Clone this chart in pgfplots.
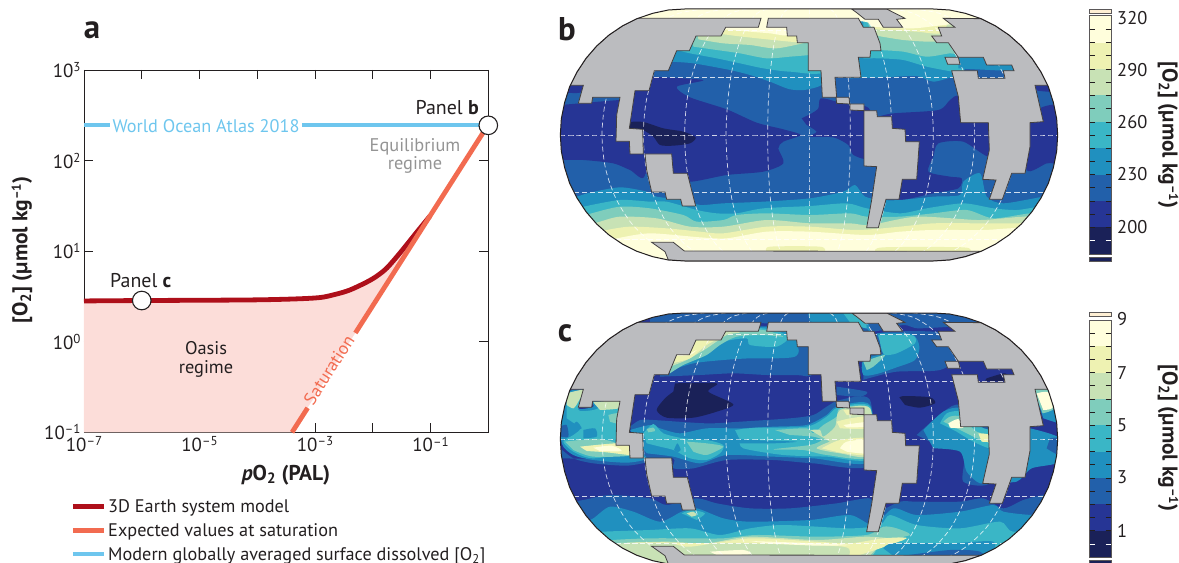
\documentclass[border=0pt]{standalone}
\usepackage{pgfplots}
\pgfplotsset{compat=1.18}
\usepackage{fontspec}
\setmainfont{PT Sans}
\definecolor{c1}{HTML}{1A2158}\definecolor{c2}{HTML}{263595}\definecolor{c3}{HTML}{2260AA}
\definecolor{c4}{HTML}{2090BF}\definecolor{c5}{HTML}{3AB6C6}\definecolor{c6}{HTML}{7FCDBC}
\definecolor{c7}{HTML}{C8E2B5}\definecolor{c8}{HTML}{EEF2B2}\definecolor{c9}{HTML}{FFFEDC}
\definecolor{landg}{HTML}{BBBCBF}\definecolor{modelc}{HTML}{AE0F1A}\definecolor{satc}{HTML}{F26B50}
\definecolor{bluec}{HTML}{6EC6EE}\definecolor{pinkc}{HTML}{FCDDD9}\definecolor{inkc}{HTML}{231F20}
\newcommand\fs[1]{\fontsize{#1}{#1}\selectfont}
\newcommand\pw[1]{10\raisebox{0.62ex}{\fs{13}#1}}
\newcommand\oxlabel{[O\textsubscript{2}] (µmol kg\raisebox{0.62ex}{\fs{13}\bfseries –1})}
\pgfplotsset{
  bd/.style={draw=none,fill=#1,smooth,tension=0.45},
  grat/.style={draw=white,draw opacity=0.8,line width=0.7bp,dash pattern=on 5bp off 3bp,smooth},
  land/.style={fill=landg,draw=inkc!85,line width=0.8bp,line join=miter},
  mapaxis/.style={hide axis,scale only axis,width=520bp,height=280bp,xmin=0,xmax=1560,ymin=0,ymax=840,y dir=reverse,anchor=south west},
}
\newcommand\merid[7]{\addplot[grat] coordinates {(#1,27)(#2,40)(#3,78)(#4,138)(#5,216)(#6,307)(#7,405)(#6,503)(#5,594)(#4,672)(#3,732)(#2,770)(#1,783)};}
\newcommand\mapover{%
 \merid{777}{777}{777}{777}{777}{777}{777}
 \merid{715}{699}{684}{671}{661}{655}{653}
 \merid{653}{621}{591}{565}{545}{533}{528}
 \merid{591}{542}{497}{459}{429}{410}{404}
 \merid{528}{464}{404}{352}{313}{288}{280}
 \merid{466}{386}{311}{246}{197}{166}{156}
 \merid{839}{855}{870}{883}{893}{899}{901}
 \merid{901}{933}{963}{989}{1009}{1021}{1026}
 \merid{963}{1012}{1057}{1095}{1125}{1144}{1150}
 \merid{1026}{1090}{1150}{1202}{1241}{1266}{1274}
 \merid{1088}{1168}{1243}{1308}{1357}{1388}{1398}
 \addplot[grat] coordinates {(31,405)(1523,405)};
 \addplot[grat] coordinates {(72,233)(1482,233)};
 \addplot[grat] coordinates {(72,577)(1482,577)};
 \addplot[grat] coordinates {(198,91)(1356,91)};
 \addplot[grat] coordinates {(198,719)(1356,719)};
 % land
 \addplot[land] coordinates {(633,55)(625,82)(527,82)(513,108)(438,108)(418,152)(380,152)(355,212)(313,212)(297,272)(255,272)(238,385)(278,388)(280,462)(240,462)(238,424)(198,424)(200,345)(210,292)(128,292)(125,310)(85,310)(100,256)(60,256)(81,216)(108,175)(140,138)(177,105)(217,78)(261,55)} --cycle;
 \addplot[land] coordinates {(285,462)(365,462)(370,520)(412,520)(437,618)(397,618)(392,598)(350,598)(345,576)(305,576)(290,510)} --cycle;
 \addplot[land] coordinates {(655,55)(925,55)(940,82)(972,82)(990,130)(993,152)(962,152)(960,172)(925,172)(933,232)(855,232)(860,292)(817,292)(813,212)(775,212)(775,128)(742,128)(740,108)(712,108)(710,82)(650,82)} --cycle;
 \addplot[land] coordinates {(858,292)(897,292)(899,312)(860,310)} --cycle;
 \addplot[land] coordinates {(900,312)(942,312)(942,332)(900,330)} --cycle;
 \addplot[land] coordinates {(942,332)(980,332)(982,350)(1025,350)(1027,385)(1065,388)(1067,425)(1108,425)(1100,538)(1057,538)(1047,598)(1008,598)(985,683)(950,683)(965,600)(980,500)(942,498)} --cycle;
 \addplot[land] coordinates {(905,27)(1010,27)(1065,55)(1040,58)(1058,82)(1000,82)(985,58)(945,58)(920,38)} --cycle;
 \addplot[land] coordinates {(1293,56)(1180,55)(1215,82)(1165,82)(1175,108)(1145,108)(1160,128)(1195,128)(1225,172)(1300,172)(1310,195)(1385,195)(1392,212)(1360,212)(1365,235)(1285,235)(1282,212)(1205,212)(1225,290)(1232,368)(1315,368)(1318,450)(1298,538)(1338,540)(1318,598)(1357,598)(1385,520)(1425,520)(1440,440)(1440,368)(1480,365)(1455,256)(1495,256)(1473,216)(1446,175)(1414,138)(1377,105)(1337,78)} --cycle;
 \addplot[land] coordinates {(1185,172)(1225,172)(1230,193)(1193,193)} --cycle;
 \addplot[land] coordinates {(305,727)(370,727)(403,753)(1293,754)(1246,770)(1199,780)(1150,783)(404,783)(355,780)(345,755)} --cycle;
 % white corners and outline
 \addplot[fill=white,draw=none] coordinates {(-5,-80)(777,-80)(777,27)(404,27)(355,30)(308,40)(261,56)(217,78)(177,105)(140,138)(108,175)(81,216)(59,260)(44,307)(34,356)(31,405)(34,454)(44,503)(59,550)(81,594)(108,635)(140,672)(177,705)(217,732)(261,754)(308,770)(355,780)(404,783)(777,783)(777,860)(-5,860)} --cycle;
 \addplot[fill=white,draw=none] coordinates {(1565,-80)(777,-80)(777,27)(1150,27)(1199,30)(1246,40)(1293,56)(1337,78)(1377,105)(1414,138)(1446,175)(1473,216)(1495,260)(1510,307)(1520,356)(1523,405)(1520,454)(1510,503)(1495,550)(1473,594)(1446,635)(1414,672)(1377,705)(1337,732)(1293,754)(1246,770)(1199,780)(1150,783)(777,783)(777,860)(1565,860)} --cycle;
 \addplot[draw=inkc,line width=1bp] coordinates {(404,27)(355,30)(308,40)(261,56)(217,78)(177,105)(140,138)(108,175)(81,216)(59,260)(44,307)(34,356)(31,405)(34,454)(44,503)(59,550)(81,594)(108,635)(140,672)(177,705)(217,732)(261,754)(308,770)(355,780)(404,783)(1150,783)(1199,780)(1246,770)(1293,754)(1337,732)(1377,705)(1414,672)(1446,635)(1473,594)(1495,550)(1510,503)(1520,454)(1523,405)(1520,356)(1510,307)(1495,260)(1473,216)(1446,175)(1414,138)(1377,105)(1337,78)(1293,56)(1246,40)(1199,30)(1150,27)} --cycle;
}
\begin{document}
\begin{tikzpicture}
\path[use as bounding box,clip] (0,0) rectangle (1179bp,563bp);
%% panel a
\begin{axis}[at={(84bp,130.7bp)},anchor=south west,scale only axis,width=404.3bp,height=362.3bp,
  xmode=log,ymode=log,xmin=1e-7,xmax=1,ymin=0.1,ymax=1000,clip=false,
  xtick={1e-7,1e-6,1e-5,1e-4,1e-3,1e-2,1e-1,1},
  xticklabels={\pw{–7},,\pw{–5},,\pw{–3},,\pw{–1},},
  ytick={0.1,1,10,100,1000},
  yticklabels={\pw{–1},\pw{0},\pw{1},\pw{2},\pw{3}},
  xminorticks=false,yminorticks=false,tick align=inside,major tick length=9.5bp,
  tick style={color=inkc,line width=0.9bp},axis line style={color=inkc,line width=0.9bp},
  tick label style={font=\fs{19},text=inkc},
  xticklabel style={yshift=-1bp},
  legend style={at={(axis description cs:-0.034,-0.179)},anchor=north west,draw=none,fill=none,font=\fs{18.3},text=inkc,
    row sep=5.5bp,inner sep=0pt,legend cell align=left},
  legend image code/.code={\draw[#1] (0bp,0bp) -- (31bp,0bp);},
  ]
\addplot[fill=pinkc,draw=none,forget plot] coordinates {(1e-7,0.1)(1e-7,2.82)(1e-6,2.85)(1e-4,2.9)(1e-3,3.04)(0.00222,3.33)(0.00403,3.73)(0.00794,4.57)(0.01183,5.32)(0.0176,6.53)(0.0296,9.55)(0.0582,16.3)(0.0977,24.4)(3.98e-4,0.1)} --cycle;
\addplot[modelc,line width=4.8bp,smooth,tension=0.5] coordinates {(1e-7,2.82)(1e-6,2.85)(1e-4,2.9)(1e-3,3.04)(0.00222,3.33)(0.00403,3.73)(0.00794,4.57)(0.01183,5.32)(0.0176,6.53)(0.0296,9.55)(0.0582,16.3)(0.0977,24.4)};
\addlegendentry{3D Earth system model}
\addplot[satc,line width=4.8bp] coordinates {(4.0e-4,0.1)(7.45e-4,0.186)};
\addlegendentry{Expected values at saturation}
\addplot[satc,line width=4.8bp,forget plot] coordinates {(5e-3,1.25)(0.98,245)};
\addplot[bluec,line width=4bp] coordinates {(1e-7,245)(2.8e-7,245)};
\addlegendentry{Modern globally averaged surface dissolved [O\textsubscript{2}]}
\addplot[bluec,line width=4bp,forget plot] coordinates {(5.9e-4,245)(1,245)};
\addplot[only marks,mark=*,mark size=9.3bp,mark options={fill=white,draw=inkc,line width=1.1bp},forget plot] coordinates {(1e-6,2.85)(1,245)};
\end{axis}
%% panel b
\begin{axis}[mapaxis,at={(550bp,283bp)}]
\addplot[fill=c3,draw=none] coordinates {(20,15)(1535,15)(1535,800)(20,800)} --cycle;
\addplot[bd=c2] coordinates {(300,230)(460,240)(380,260)(420,292)(530,328)(620,368)(700,388)(752,405)(700,425)(685,445)(700,490)(640,515)(530,525)(420,545)(370,520)(280,520)(240,480)(200,400)(240,270)} --cycle;
\addplot[bd=c2] coordinates {(20,316)(90,310)(210,300)(285,300)(285,525)(240,510)(190,490)(100,480)(40,480)(20,480)} --cycle;
\addplot[bd=c2] coordinates {(40,256)(100,256)(90,278)(50,278)} --cycle;
\addplot[bd=c2] coordinates {(755,355)(785,340)(805,325)(812,295)(860,305)(900,315)(960,330)(960,470)(910,465)(895,435)(850,412)(780,410)(800,395)(770,375)} --cycle;
\addplot[bd=c2] coordinates {(985,350)(1030,340)(1165,330)(1200,300)(1230,290)(1320,370)(1320,470)(1240,425)(1165,430)(1150,470)(1135,515)(1200,530)(1235,535)(1225,565)(1150,580)(1060,600)(1040,600)(1060,500)(1000,400)} --cycle;
\addplot[bd=c2] coordinates {(1475,322)(1535,322)(1535,478)(1490,490)(1430,510)(1430,370)} --cycle;
\addplot[bd=c2] coordinates {(1450,250)(1505,250)(1515,275)(1462,272)} --cycle;
\addplot[bd=c1] coordinates {(235,366)(280,366)(340,385)(400,395)(437,412)(420,430)(370,437)(330,435)(310,410)(278,390)(235,385)} --cycle;
% north pacific
\addplot[bd=c4] coordinates {(300,60)(830,60)(830,235)(775,268)(720,268)(660,245)(600,225)(540,210)(430,190)(360,185)} --cycle;
\addplot[bd=c5] coordinates {(400,60)(830,60)(830,212)(720,215)(640,205)(570,190)(500,175)(420,160)(380,150)} --cycle;
\addplot[bd=c6] coordinates {(420,60)(830,60)(830,160)(780,165)(720,170)(650,175)(570,160)(500,150)(430,140)} --cycle;
\addplot[bd=c7] coordinates {(440,60)(830,60)(830,115)(780,125)(680,145)(600,135)(520,130)(445,118)} --cycle;
\addplot[bd=c8] coordinates {(500,60)(830,60)(830,125)(760,128)(720,125)(650,118)(560,108)(500,100)} --cycle;
\addplot[bd=c9] coordinates {(510,60)(730,60)(715,105)(660,100)(600,95)(520,88)} --cycle;
% north atlantic
\addplot[bd=c4] coordinates {(900,60)(1240,60)(1240,225)(1210,230)(1150,245)(1100,228)(1000,232)(900,235)} --cycle;
\addplot[bd=c5] coordinates {(940,60)(1240,60)(1240,212)(1210,215)(1130,200)(1060,180)(990,175)(940,175)} --cycle;
\addplot[bd=c6] coordinates {(950,60)(1240,60)(1240,160)(1200,160)(1130,170)(1060,155)(985,150)} --cycle;
\addplot[bd=c7] coordinates {(950,60)(1200,60)(1200,118)(1140,125)(1060,120)(985,108)} --cycle;
\addplot[bd=c8] coordinates {(960,60)(1180,60)(1170,100)(1100,95)(975,88)} --cycle;
\addplot[bd=c9] coordinates {(250,20)(1310,20)(1310,56)(1140,80)(1080,85)(970,80)(900,62)(250,62)} --cycle;
\addplot[bd=c4] coordinates {(1225,172)(1300,172)(1310,195)(1385,195)(1392,212)(1280,208)(1225,205)} --cycle;
% south bands
\addplot[bd=c4] coordinates {(40,600)(80,590)(120,578)(210,562)(290,575)(320,590)(400,600)(450,615)(520,610)(640,605)(780,595)(880,575)(915,555)(945,590)(1000,600)(1050,600)(1150,590)(1230,585)(1240,545)(1290,520)(1310,590)(1360,610)(1480,590)(1530,585)(1530,800)(30,800)} --cycle;
\addplot[bd=c5] coordinates {(60,630)(100,620)(210,600)(300,605)(350,605)(440,630)(500,640)(560,640)(640,625)(780,618)(890,610)(950,625)(1050,640)(1130,625)(1240,610)(1330,625)(1400,630)(1470,620)(1530,620)(1530,800)(30,800)} --cycle;
\addplot[bd=c6] coordinates {(80,655)(125,640)(210,620)(300,625)(400,645)(440,665)(520,660)(560,645)(650,640)(780,645)(900,640)(950,650)(1050,650)(1150,640)(1250,630)(1330,655)(1440,640)(1530,640)(1530,800)(30,800)} --cycle;
\addplot[bd=c7] coordinates {(100,680)(150,665)(210,650)(320,655)(420,680)(520,680)(650,660)(780,670)(900,670)(960,675)(1100,650)(1280,660)(1360,655)(1420,650)(1530,650)(1530,800)(30,800)} --cycle;
\addplot[bd=c8] coordinates {(130,700)(170,690)(240,680)(350,685)(450,695)(520,700)(650,680)(780,680)(920,690)(1050,680)(1150,670)(1300,670)(1400,670)(1530,670)(1530,800)(30,800)} --cycle;
\addplot[bd=c9] coordinates {(150,725)(200,715)(300,700)(450,712)(530,715)(650,695)(780,695)(950,705)(1050,695)(1150,690)(1300,690)(1380,685)(1530,680)(1530,800)(30,800)} --cycle;
\addplot[bd=c8] coordinates {(650,755)(660,740)(810,740)(825,755)} --cycle;
\addplot[bd=c8] coordinates {(975,755)(1000,742)(1240,742)(1260,755)} --cycle;
\mapover
\end{axis}
%% panel c
\begin{axis}[mapaxis,at={(550bp,-21bp)},
  cb/.style={draw=none,fill=#1,smooth,tension=0.45,y filter/.expression={y-27}}]
\addplot[fill=c2,draw=none] coordinates {(20,15)(1535,15)(1535,800)(20,800)} --cycle;
% arctic strip
\addplot[cb=c3] coordinates {(300,40)(1290,40)(1290,85)(1110,100)(1060,90)(950,110)(650,85)(300,85)} --cycle;
\addplot[cb=c4] coordinates {(770,40)(930,50)(960,110)(930,90)(780,80)} --cycle;
\addplot[cb=c5] coordinates {(880,55)(930,60)(950,100)(900,82)} --cycle;
% north pacific
\addplot[cb=c3] coordinates {(330,245)(450,240)(550,235)(650,240)(740,240)(790,235)(790,100)(330,100)} --cycle;
\addplot[cb=c4] coordinates {(350,230)(430,205)(520,195)(600,190)(680,190)(735,185)(745,160)(700,100)(430,100)(350,150)} --cycle;
\addplot[cb=c5] coordinates {(360,225)(420,190)(470,170)(520,140)(590,130)(600,150)(680,155)(715,125)(640,100)(430,100)(350,170)} --cycle;
\addplot[cb=c6] coordinates {(360,235)(400,210)(470,180)(510,150)(560,125)(640,120)(700,125)(640,105)(530,100)(430,135)(350,180)} --cycle;
\addplot[cb=c7] coordinates {(360,215)(410,195)(470,160)(530,120)(570,112)(525,100)(500,130)(440,135)(370,180)} --cycle;
\addplot[cb=c8] coordinates {(365,205)(420,190)(470,150)(510,128)(525,108)(545,115)(515,105)(490,130)(430,140)(380,180)} --cycle;
\addplot[cb=c9] coordinates {(380,183)(420,180)(440,165)(415,177)(385,176)} --cycle;
% equatorial pacific
\addplot[cb=c3] coordinates {(240,395)(270,375)(310,375)(470,385)(570,380)(720,370)(790,360)(830,335)(870,315)(960,315)(960,510)(790,505)(670,495)(530,495)(430,520)(370,520)(370,490)(280,490)} --cycle;
\addplot[cb=c4] coordinates {(240,405)(300,390)(330,400)(390,415)(470,400)(570,400)(670,395)(770,390)(830,360)(860,335)(960,330)(960,500)(790,490)(670,485)(530,480)(450,505)(370,485)(290,475)} --cycle;
\addplot[cb=c5] coordinates {(280,415)(310,387)(340,415)(400,430)(470,435)(520,450)(510,475)(470,495)(420,490)(370,465)(330,455)(290,445)} --cycle;
\addplot[cb=c5] coordinates {(555,405)(620,398)(770,395)(830,365)(865,337)(960,335)(960,490)(830,485)(700,480)(580,460)(570,435)} --cycle;
\addplot[cb=c4] coordinates {(535,430)(610,435)(740,440)(670,445)(580,445)(540,445)} --cycle;
\addplot[cb=c6] coordinates {(675,405)(770,400)(790,415)(820,390)(860,365)(870,340)(960,340)(960,485)(830,480)(760,465)(670,463)(780,450)(815,435)(790,425)(720,420)} --cycle;
\addplot[cb=c6] coordinates {(410,440)(470,445)(520,455)(470,480)(430,470)} --cycle;
\addplot[cb=c4] coordinates {(372,465)(382,445)(392,465)(382,472)} --cycle;
\addplot[cb=c6] coordinates {(290,402)(310,398)(315,408)(295,412)} --cycle;
\addplot[cb=c7] coordinates {(780,405)(810,405)(820,425)(855,395)(870,345)(960,340)(960,480)(870,475)(800,460)(840,440)} --cycle;
\addplot[cb=c8] coordinates {(860,380)(900,370)(960,365)(960,400)(870,400)} --cycle;
\addplot[cb=c8] coordinates {(815,460)(870,435)(960,430)(960,480)(870,473)} --cycle;
\addplot[cb=c9] coordinates {(880,390)(960,380)(960,395)(890,397)} --cycle;
\addplot[cb=c9] coordinates {(870,460)(890,440)(960,435)(960,475)(890,470)} --cycle;
\addplot[cb=c8] coordinates {(880,345)(910,345)(910,360)(890,360)} --cycle;
% dark blobs
\addplot[cb=c1] coordinates {(375,265)(500,265)(475,290)(550,328)(500,350)(430,368)(350,368)(320,345)(345,310)(370,290)} --cycle;
\addplot[cb=c1] coordinates {(1048,307)(1065,303)(1140,307)(1155,325)(1110,338)(1065,330)} --cycle;
\addplot[cb=c1] coordinates {(1310,250)(1365,235)(1380,257)(1305,257)} --cycle;
% left basin
\addplot[cb=c3] coordinates {(25,455)(70,490)(130,505)(230,512)(300,500)(300,495)(30,490)} --cycle;
\addplot[cb=c4] coordinates {(40,290)(105,285)(85,340)(130,335)(130,315)(220,315)(205,430)(245,450)(290,490)(230,503)(130,495)(70,480)(35,445)(35,355)} --cycle;
\addplot[cb=c3] coordinates {(30,395)(50,390)(55,425)(30,425)} --cycle;
\addplot[cb=c5] coordinates {(50,310)(100,290)(85,345)(130,345)(205,325)(205,445)(250,470)(130,490)(70,470)(40,440)(70,420)(90,400)(50,370)} --cycle;
\addplot[cb=c4] coordinates {(100,405)(135,400)(140,425)(100,430)} --cycle;
\addplot[cb=c4] coordinates {(65,395)(80,380)(95,400)(75,405)} --cycle;
\addplot[cb=c6] coordinates {(45,440)(90,435)(150,432)(200,445)(250,480)(130,485)(70,465)} --cycle;
\addplot[cb=c6] coordinates {(175,360)(205,355)(205,385)(180,380)} --cycle;
\addplot[cb=c8] coordinates {(90,455)(200,445)(250,455)(250,480)(170,472)(110,468)} --cycle;
\addplot[cb=c9] coordinates {(130,458)(185,452)(215,468)(150,468)} --cycle;
\addplot[cb=c7] coordinates {(50,295)(100,285)(85,320)(70,340)(50,330)} --cycle;
\addplot[cb=c7] coordinates {(130,322)(210,316)(205,340)(150,345)} --cycle;
% atlantic
\addplot[cb=c3] coordinates {(940,195)(985,115)(1200,115)(1230,180)(1170,225)(1040,230)(955,250)(940,255)} --cycle;
\addplot[cb=c4] coordinates {(980,115)(1085,117)(1108,155)(1095,195)(1040,217)(980,237)(940,240)(940,195)(1005,175)} --cycle;
\addplot[cb=c5] coordinates {(985,120)(1085,120)(1095,145)(1040,175)(1005,180)(995,165)} --cycle;
\addplot[cb=c6] coordinates {(940,200)(1005,180)(970,215)(950,225)} --cycle;
\addplot[cb=c3] coordinates {(860,275)(950,290)(930,305)(860,300)} --cycle;
\addplot[cb=c3] coordinates {(1100,420)(1180,350)(1232,330)(1325,400)(1325,560)(1240,560)(1240,470)(1140,440)} --cycle;
\addplot[cb=c4] coordinates {(1120,405)(1180,350)(1232,340)(1300,400)(1325,440)(1325,545)(1290,565)(1250,530)(1230,470)(1150,460)} --cycle;
\addplot[cb=c5] coordinates {(1170,385)(1190,355)(1232,350)(1290,395)(1325,410)(1325,460)(1270,440)(1220,410)} --cycle;
\addplot[cb=c6] coordinates {(1180,380)(1200,365)(1232,365)(1280,410)(1325,420)(1325,445)(1270,425)} --cycle;
\addplot[cb=c9] coordinates {(1195,385)(1225,372)(1240,398)(1200,398)} --cycle;
\addplot[cb=c8] coordinates {(1285,415)(1325,420)(1325,440)(1295,440)} --cycle;
% far right
\addplot[cb=c4] coordinates {(1450,280)(1500,280)(1530,370)(1530,385)(1480,370)} --cycle;
\addplot[cb=c6] coordinates {(1450,284)(1498,284)(1512,340)(1478,355)} --cycle;
\addplot[cb=c9] coordinates {(1460,295)(1495,292)(1508,338)(1480,345)} --cycle;
\addplot[cb=c4] coordinates {(1440,400)(1530,430)(1530,500)(1445,520)(1400,560)(1320,560)} --cycle;
\addplot[cb=c3] coordinates {(1500,430)(1530,430)(1530,480)(1490,460)} --cycle;
% south bands
\addplot[cb=c3] coordinates {(40,625)(100,615)(180,600)(300,610)(350,630)(440,610)(500,625)(600,640)(720,640)(860,625)(960,610)(980,650)(1050,620)(1100,620)(1230,620)(1300,610)(1360,640)(1420,615)(1480,600)(1530,600)(1530,825)(30,825)} --cycle;
\addplot[cb=c4] coordinates {(90,690)(130,670)(180,635)(250,650)(330,680)(395,650)(440,640)(520,670)(600,680)(780,675)(900,660)(970,690)(1030,640)(1100,660)(1230,650)(1330,630)(1360,650)(1450,660)(1530,650)(1530,825)(30,825)} --cycle;
\addplot[cb=c5] coordinates {(120,715)(160,710)(300,705)(420,700)(510,720)(600,700)(700,690)(900,700)(990,690)(1020,660)(1100,690)(1230,700)(1350,680)(1390,710)(1530,700)(1530,825)(30,825)} --cycle;
\addplot[cb=c5] coordinates {(395,655)(425,645)(465,655)(440,675)} --cycle;
\addplot[cb=c7] coordinates {(410,655)(430,650)(440,660)(425,665)} --cycle;
\addplot[cb=c6] coordinates {(150,745)(190,735)(300,730)(420,730)(520,730)(620,720)(800,725)(950,720)(1000,695)(1040,700)(1080,720)(1000,740)(960,790)(900,825)(150,825)} --cycle;
\addplot[cb=c7] coordinates {(180,750)(215,745)(350,740)(470,745)(600,725)(800,735)(950,725)(1060,735)(1000,745)(950,790)(900,825)(180,825)} --cycle;
\addplot[cb=c8] coordinates {(210,742)(350,742)(420,755)(600,730)(800,740)(900,745)(1000,730)(1070,730)(960,770)(900,785)(880,755)(600,745)(500,745)} --cycle;
\addplot[cb=c9] coordinates {(480,770)(580,765)(600,778)(500,780)} --cycle;
\addplot[cb=c9] coordinates {(600,738)(800,745)(900,750)(800,752)(650,745)} --cycle;
\addplot[cb=c4] coordinates {(1000,760)(1030,745)(1200,745)(1330,740)(1300,790)(1040,790)} --cycle;
\addplot[cb=c3] coordinates {(1040,785)(1200,765)(1290,770)(1290,800)(1040,800)} --cycle;
\mapover
\end{axis}
%% overlay: colourbars and texts
\begin{axis}[hide axis,scale only axis,width=1179bp,height=563bp,at={(0bp,0bp)},anchor=south west,
  xmin=0,xmax=1179,ymin=0,ymax=563,y dir=reverse,clip=false,
  cell/.style={fill=#1,draw=none},
  frame/.style={draw=inkc!75,line width=1bp},
  tk/.style={draw=inkc,line width=0.8bp}]
% white strips along the map boxes' edges
\addplot[fill=white,draw=none] coordinates {(1066,-2)(1075,-2)(1075,566)(1066,566)} --cycle;
\addplot[fill=white,draw=none] coordinates {(545,-2)(552,-2)(552,566)(545,566)} --cycle;
% colourbar b
\addplot[cell=c9] coordinates {(1089.5,16)(1111,16)(1111,42.7)(1089.5,42.7)} --cycle;
\addplot[cell=c8] coordinates {(1089.5,42.7)(1111,42.7)(1111,69)(1089.5,69)} --cycle;
\addplot[cell=c7] coordinates {(1089.5,69)(1111,69)(1111,95.3)(1089.5,95.3)} --cycle;
\addplot[cell=c6] coordinates {(1089.5,95.3)(1111,95.3)(1111,122)(1089.5,122)} --cycle;
\addplot[cell=c5] coordinates {(1089.5,122)(1111,122)(1111,148.3)(1089.5,148.3)} --cycle;
\addplot[cell=c4] coordinates {(1089.5,148.3)(1111,148.3)(1111,174.7)(1089.5,174.7)} --cycle;
\addplot[cell=c3] coordinates {(1089.5,174.7)(1111,174.7)(1111,201)(1089.5,201)} --cycle;
\addplot[cell=c2] coordinates {(1089.5,201)(1111,201)(1111,227.3)(1089.5,227.3)} --cycle;
\addplot[cell=c1] coordinates {(1089.5,227.3)(1111,227.3)(1111,254.3)(1089.5,254.3)} --cycle;
\addplot[fill=c1,frame] coordinates {(1089.5,257)(1111,257)(1111,261.5)(1089.5,261.5)} --cycle;
\addplot[fill=yellow!25!orange!15!white,frame] coordinates {(1089.5,9.2)(1111,9.2)(1111,13.5)(1089.5,13.5)} --cycle;
\addplot[frame] coordinates {(1089.5,16)(1111,16)(1111,254.3)(1089.5,254.3)} --cycle;
\pgfplotsinvokeforeach{29.3,42.7,55.8,69,82.2,95.3,108.7,122,135.2,148.3,161.5,174.7,187.8,201,214.2,227.3}{
 \addplot[tk] coordinates {(1089.5,#1)(1095,#1)};
 \addplot[tk] coordinates {(1105.5,#1)(1111,#1)};}
\addplot[draw=white,line width=0.8bp] coordinates {(1089.5,240.8)(1095,240.8)};
\addplot[draw=white,line width=0.8bp] coordinates {(1105.5,240.8)(1111,240.8)};
% colourbar c
\addplot[cell=c9] coordinates {(1089.5,320)(1111,320)(1111,346.3)(1089.5,346.3)} --cycle;
\addplot[cell=c8] coordinates {(1089.5,346.3)(1111,346.3)(1111,372.7)(1089.5,372.7)} --cycle;
\addplot[cell=c7] coordinates {(1089.5,372.7)(1111,372.7)(1111,399)(1089.5,399)} --cycle;
\addplot[cell=c6] coordinates {(1089.5,399)(1111,399)(1111,425.3)(1089.5,425.3)} --cycle;
\addplot[cell=c5] coordinates {(1089.5,425.3)(1111,425.3)(1111,451.7)(1089.5,451.7)} --cycle;
\addplot[cell=c4] coordinates {(1089.5,451.7)(1111,451.7)(1111,478)(1089.5,478)} --cycle;
\addplot[cell=c3] coordinates {(1089.5,478)(1111,478)(1111,504.3)(1089.5,504.3)} --cycle;
\addplot[cell=c2] coordinates {(1089.5,504.3)(1111,504.3)(1111,530.7)(1089.5,530.7)} --cycle;
\addplot[cell=c1] coordinates {(1089.5,530.7)(1111,530.7)(1111,557.7)(1089.5,557.7)} --cycle;
\addplot[fill=c1,frame] coordinates {(1089.5,560)(1111,560)(1111,566)(1089.5,566)} --cycle;
\addplot[fill=yellow!25!orange!15!white,frame] coordinates {(1089.5,312.5)(1111,312.5)(1111,316.7)(1089.5,316.7)} --cycle;
\addplot[frame] coordinates {(1089.5,320)(1111,320)(1111,557.7)(1089.5,557.7)} --cycle;
\pgfplotsinvokeforeach{333.2,346.3,359.5,372.7,385.8,399,412.2,425.3,438.5,451.7,464.8,478,491.2,504.3,517.5,530.7}{
 \addplot[tk] coordinates {(1089.5,#1)(1095,#1)};
 \addplot[tk] coordinates {(1105.5,#1)(1111,#1)};}
\addplot[draw=white,line width=0.8bp] coordinates {(1089.5,544.2)(1095,544.2)};
\addplot[draw=white,line width=0.8bp] coordinates {(1105.5,544.2)(1111,544.2)};
% colourbar labels
\begin{scope}[every node/.style={font=\fs{18.5},text=inkc,anchor=west,inner sep=0pt}]
\node at (1117,18) {320};\node at (1117,70) {290};\node at (1117,122) {260};\node at (1117,174) {230};\node at (1117,227) {200};
\node at (1117,319) {9};\node at (1117,373) {7};\node at (1117,425) {5};\node at (1117,477) {3};\node at (1117,531) {1};
\end{scope}
\node[rotate=-90,font=\fs{21.5}\bfseries,text=inkc,inner sep=0pt] at (1168,135) {\oxlabel};
\node[rotate=-90,font=\fs{21.5}\bfseries,text=inkc,inner sep=0pt] at (1168,438) {\oxlabel};
\node[rotate=90,font=\fs{21.5}\bfseries,text=inkc,inner sep=0pt] at (22,250) {\oxlabel};
\node[font=\fs{21.5}\bfseries,text=inkc,inner sep=0pt] at (286,475) {\textit{p}O\textsubscript{2} (PAL)};
\node[font=\fs{33}\bfseries,text=inkc,inner sep=0pt] at (92,30) {a};
\node[font=\fs{33}\bfseries,text=inkc,inner sep=0pt] at (567,29) {b};
\node[font=\fs{33}\bfseries,text=inkc,inner sep=0pt] at (565,333) {c};
\node[font=\fs{20},text=inkc,anchor=east,inner sep=0pt] at (479,108) {Panel \textbf{b}};
\node[font=\fs{20},text=inkc,anchor=west,inner sep=0pt] at (110,281) {Panel \textbf{c}};
\node[font=\fs{18.3},text=bluec,inner sep=0pt] at (206,126) {World Ocean Atlas 2018};
\node[font=\fs{18.4},text=black!42,inner sep=0pt,align=center] at (415,156) {Equilibrium\\[0.5pt]regime};
\node[font=\fs{18.4},text=inkc,inner sep=0pt,align=center] at (206,359) {Oasis\\[0.5pt]regime};
\node[font=\fs{17.7},text=satc,rotate=57.5,inner sep=0pt] at (329,370) {Saturation};
\end{axis}
\end{tikzpicture}
\end{document}
